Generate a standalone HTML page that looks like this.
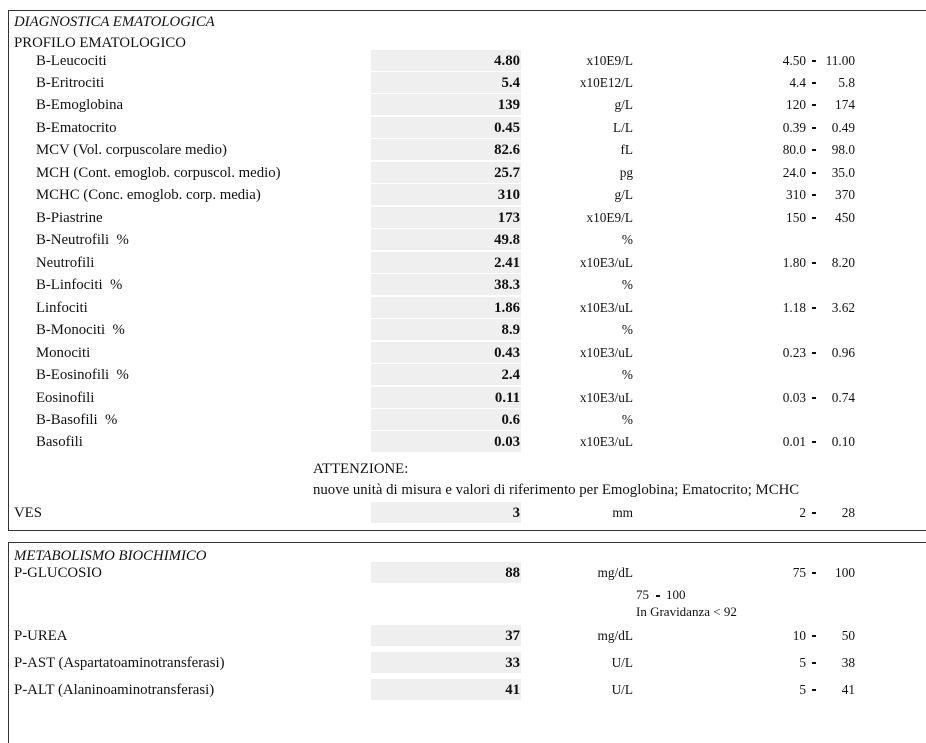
<!DOCTYPE html>
<html><head><style>
body{margin:0;width:926px;height:716px;background:#fff;position:relative;overflow:hidden;font-family:"Liberation Serif",serif;font-size:14.8px;color:#111}
div{position:absolute;white-space:nowrap;line-height:16px}
.g{background:#efefef;left:371px;width:150px;height:21px}
.v{right:406px;font-weight:bold}
.u{right:293px}
.lo{right:120px}
.d{left:812px;width:4px;height:2px;background:#111}
.hi{right:71px}
</style></head><body>
<div style="left:8px;top:10px;width:930px;height:519px;border:1px solid #333;border-right:none"></div>
<div style="left:8px;top:542px;width:930px;height:200px;border-top:1px solid #333;border-left:1px solid #333"></div>
<div style="left:14px;top:14px;font-style:italic">DIAGNOSTICA EMATOLOGICA</div>
<div style="left:14px;top:35px">PROFILO EMATOLOGICO</div>
<div id="rows"></div>
<div style="left:313px;top:461px">ATTENZIONE:</div>
<div style="left:313px;top:482px">nuove unità di misura e valori di riferimento per Emoglobina; Ematocrito; MCHC</div>
<div style="left:14px;top:548px;font-style:italic">METABOLISMO BIOCHIMICO</div>
<div style="left:636px;top:587px;font-size:13px">75 &nbsp;<span style="display:inline-block;width:4px;height:2px;background:#111;vertical-align:middle"></span>&nbsp; 100</div>
<div style="left:636px;top:604px;font-size:13px">In Gravidanza &lt; 92</div>
<script>
var R=[["B-Leucociti","4.80","x10E9/L","4.50","11.00",60,36],
["B-Eritrociti","5.4","x10E12/L","4.4","5.8",82,36],
["B-Emoglobina","139","g/L","120","174",104,36],
["B-Ematocrito","0.45","L/L","0.39","0.49",127,36],
["MCV (Vol. corpuscolare medio)","82.6","fL","80.0","98.0",149,36],
["MCH (Cont. emoglob. corpuscol. medio)","25.7","pg","24.0","35.0",172,36],
["MCHC (Conc. emoglob. corp. media)","310","g/L","310","370",194,36],
["B-Piastrine","173","x10E9/L","150","450",217,36],
["B-Neutrofili  %","49.8","%","","",239,36],
["Neutrofili","2.41","x10E3/uL","1.80","8.20",262,36],
["B-Linfociti  %","38.3","%","","",284,36],
["Linfociti","1.86","x10E3/uL","1.18","3.62",307,36],
["B-Monociti  %","8.9","%","","",329,36],
["Monociti","0.43","x10E3/uL","0.23","0.96",352,36],
["B-Eosinofili  %","2.4","%","","",374,36],
["Eosinofili","0.11","x10E3/uL","0.03","0.74",397,36],
["B-Basofili  %","0.6","%","","",419,36],
["Basofili","0.03","x10E3/uL","0.01","0.10",441,36],
["VES","3","mm","2","28",512,14],
["P-GLUCOSIO","88","mg/dL","75","100",572,14],
["P-UREA","37","mg/dL","10","50",635,14],
["P-AST (Aspartatoaminotransferasi)","33","U/L","5","38",662,14],
["P-ALT (Alaninoaminotransferasi)","41","U/L","5","41",689,14]];
var h="";R.forEach(function(r){var c=r[5],t=c-7;
h+='<div class="g" style="top:'+(c-10)+'px"></div>';
h+='<div style="left:'+r[6]+'px;top:'+t+'px">'+r[0].replace(/  /g,"&nbsp; ")+'</div>';
h+='<div class="v" style="top:'+t+'px">'+r[1]+'</div>';
h+='<div class="u" style="top:'+t+'px;font-size:13.3px">'+r[2]+'</div>';
if(r[3]){h+='<div class="lo" style="top:'+t+'px;font-size:13.3px">'+r[3]+'</div><div class="d" style="top:'+(c)+'px"></div><div class="hi" style="top:'+t+'px;font-size:13.3px">'+r[4]+'</div>';}
});document.getElementById("rows").outerHTML=h;
</script>
</body></html>
